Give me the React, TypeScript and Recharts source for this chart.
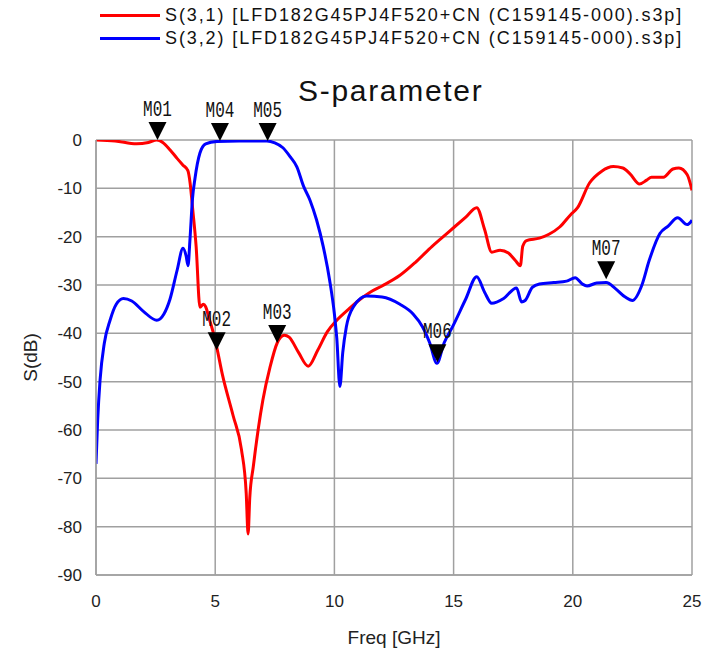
import React from "react";
import {
  ComposedChart,
  Line,
  XAxis,
  YAxis,
  CartesianGrid,
  ReferenceDot,
} from "recharts";

// S(3,1) (red)
const s31Freq = [
  0, 0.8, 1.7, 2.2, 2.55, 2.8, 3.1, 3.4, 3.65, 3.85, 3.95, 4.05, 4.2, 4.36, 4.5, 4.6, 4.75, 4.9,
  5.07, 5.3, 5.75, 6.1, 6.3, 6.38, 6.45, 6.6, 6.8, 7.0, 7.3, 7.6, 7.9, 8.1, 8.5, 8.9, 9.3, 9.7,
  10.1, 10.6, 11.07, 11.5, 12.0, 12.75, 13.4, 14.1, 14.8, 15.5, 15.97, 16.3, 16.6, 16.95, 17.3,
  17.6, 17.8, 17.9, 18.06, 18.6, 19.0, 19.45, 19.9, 20.2, 20.7, 21.2, 21.7, 22.1, 22.4, 22.8,
  23.1, 23.3, 23.8, 24.2, 24.45, 24.8, 25,
];
const s31dB = [
  0, -0.2, -0.8, -0.5, 0, -0.5, -2, -3.8, -5.2, -6.3, -9, -14, -22, -34.6, -34, -34.5, -37, -39.5,
  -43, -48.5, -57, -64, -73, -81.5, -74, -67.5, -60, -53.8, -47, -42, -40.4, -40.8, -44, -46.8,
  -43.5, -39.7, -37.3, -35, -33, -31.5, -30.2, -28, -25.3, -22, -19, -16, -14, -18.5, -23.2, -22.8,
  -23.4, -25, -26, -22, -20.8, -20.3, -19.5, -18, -15.5, -14, -8.9, -6.5, -5.5, -5.8, -7, -9.1,
  -8.3, -7.7, -7.7, -6, -5.8, -7.2, -10.4,
];

// S(3,2) (blue)
const s32Freq = [
  0, 0.07, 0.17, 0.35, 0.59, 0.85, 1.15, 1.5, 2.0, 2.55, 2.85, 3.1, 3.4, 3.65, 3.78, 3.86, 3.94,
  4.05, 4.15, 4.36, 4.6, 5.07, 6.0, 7.17, 7.5, 7.84, 8.15, 8.43, 8.7, 8.98, 9.25, 9.53, 9.8, 10.0,
  10.1, 10.23, 10.35, 10.5, 10.8, 11.35, 12.0, 12.75, 13.3, 13.7, 14.0, 14.3, 14.6, 14.97, 15.5,
  15.97, 16.3, 16.6, 17.1, 17.64, 17.85, 18.0, 18.3, 18.6, 19.2, 19.74, 20.1, 20.4, 20.6, 21.0,
  21.4, 21.8, 22.2, 22.5, 22.9, 23.2, 23.66, 24.0, 24.4, 24.8, 25,
];
const s32dB = [
  -67, -58, -49.7, -42, -37.3, -34, -32.8, -33.3, -35.5, -37.3, -36, -33, -27, -22.4, -24, -26,
  -20.7, -12, -8, -2.7, -0.8, -0.3, -0.2, -0.2, -0.6, -1.6, -3.5, -5.6, -9.5, -12.5, -16.5, -22,
  -29, -36, -41, -51, -44, -38.7, -34.5, -32.3, -32.5, -34, -36, -38.7, -42, -46.2, -42, -38.5,
  -33, -28.3, -31.5, -33.8, -32.8, -30.6, -33.5, -33.2, -30.5, -29.8, -29.5, -29.2, -28.5, -29.8,
  -30.2, -29.6, -29.5, -30.8, -32.5, -33.2, -30, -25, -19.3, -17.8, -16.1, -17.5, -16.6,
];

const markerNames = ["M01", "M02", "M03", "M04", "M05", "M06", "M07"];
const markerFreq = [2.58, 5.06, 7.6, 5.2, 7.2, 14.32, 21.4];
const markerdB = [0, -43.5, -42, -0.2, -0.2, -46, -28.8];

const xTicks = [0, 5, 10, 15, 20, 25];
const yTicks = [0, -10, -20, -30, -40, -50, -60, -70, -80, -90];

const legendNames = [
  "S(3,1) [LFD182G45PJ4F520+CN (C159145-000).s3p]",
  "S(3,2) [LFD182G45PJ4F520+CN (C159145-000).s3p]",
];
const colors = ["#ff0000", "#0000ff"];

const s31 = s31Freq.map((f, i) => ({ f, db: s31dB[i] }));
const s32 = s32Freq.map((f, i) => ({ f, db: s32dB[i] }));

const tickFont = "'Liberation Sans', Arial, sans-serif";

function MarkerShape(props: any) {
  const { cx, cy, name } = props;
  return (
    <g>
      <path d={`M${cx - 9},${cy - 18} L${cx + 9},${cy - 18} L${cx},${cy} Z`} fill="#000" />
      <text
        transform={`translate(${cx} ${cy - 24}) scale(1 1.35)`}
        textAnchor="middle"
        fontFamily="'Liberation Mono', 'DejaVu Sans Mono', monospace"
        fontSize={16}
        fill="#111"
      >
        {name}
      </text>
    </g>
  );
}

export default function App() {
  return (
    <div
      style={{
        position: "absolute",
        left: 0,
        top: 0,
        width: 704,
        height: 660,
        background: "#fff",
        fontFamily: tickFont,
      }}
    >
      <div style={{ position: "absolute", left: 100, top: 4 }}>
        {legendNames.map((n, i) => (
          <div
            key={n}
            style={{ display: "flex", alignItems: "center", height: 23, whiteSpace: "nowrap" }}
          >
            <div style={{ width: 60, height: 3, background: colors[i], marginRight: 5 }} />
            <span style={{ fontSize: 18, color: "#111", letterSpacing: 1.9 }}>{n}</span>
          </div>
        ))}
      </div>
      <div
        style={{
          position: "absolute",
          left: 298,
          top: 74,
          fontSize: 30,
          letterSpacing: 1.7,
          lineHeight: "34px",
          color: "#111",
          whiteSpace: "nowrap",
        }}
      >
        S-parameter
      </div>
      <ComposedChart
        width={704}
        height={660}
        margin={{ top: 140, right: 12, left: 36, bottom: 10 }}
      >
        <CartesianGrid stroke="#a0a0a0" strokeWidth={1.5} />
        <XAxis
          type="number"
          dataKey="f"
          domain={[0, 25]}
          ticks={xTicks}
          allowDataOverflow
          height={75}
          tickLine={false}
          axisLine={{ stroke: "#a0a0a0", strokeWidth: 1.5 }}
          tickMargin={14}
          tick={{ fill: "#222", fontSize: 17, fontFamily: tickFont }}
          label={{
            value: "Freq [GHz]",
            position: "insideBottom",
            offset: 6,
            fill: "#222",
            fontSize: 19,
            fontFamily: tickFont,
          }}
        />
        <YAxis
          type="number"
          dataKey="db"
          domain={[-90, 0]}
          ticks={yTicks}
          allowDataOverflow
          width={60}
          tickLine={false}
          axisLine={{ stroke: "#a0a0a0", strokeWidth: 1.5 }}
          tickMargin={8}
          tick={{ fill: "#222", fontSize: 17, fontFamily: tickFont }}
          label={(p: any) => {
            const vb = p.viewBox || {};
            const x = 30;
            const y = (vb.y ?? 140) + (vb.height ?? 435) / 2;
            return (
              <text
                x={x}
                y={y}
                transform={`rotate(-90 ${x} ${y})`}
                textAnchor="middle"
                dominantBaseline="central"
                fontSize={19}
                fill="#222"
                fontFamily={tickFont}
              >
                S(dB)
              </text>
            );
          }}
        />
        <Line
          data={s31}
          dataKey="db"
          type="monotone"
          stroke={colors[0]}
          strokeWidth={3}
          dot={false}
          isAnimationActive={false}
        />
        <Line
          data={s32}
          dataKey="db"
          type="monotone"
          stroke={colors[1]}
          strokeWidth={3}
          dot={false}
          isAnimationActive={false}
        />
        {markerNames.map((m, i) => (
          <ReferenceDot
            key={m}
            x={markerFreq[i]}
            y={markerdB[i]}
            shape={(p: any) => <MarkerShape {...p} name={m} />}
          />
        ))}
      </ComposedChart>
    </div>
  );
}
